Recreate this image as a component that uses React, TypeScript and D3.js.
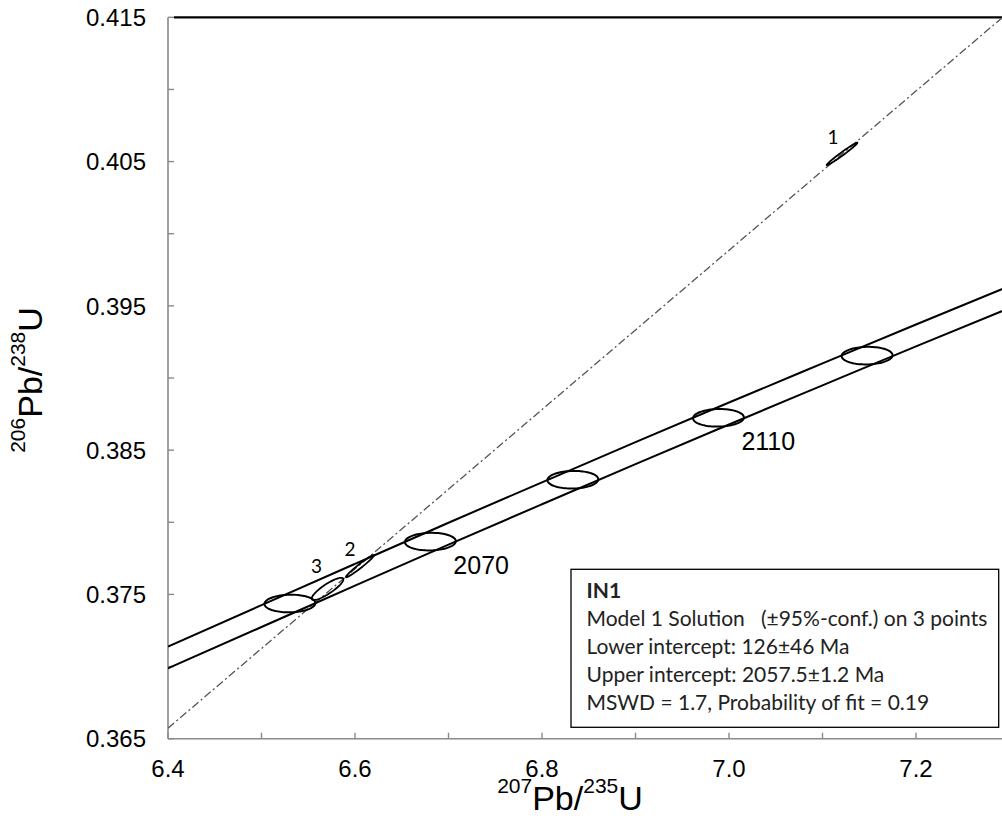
import React from "react";
import * as d3 from "d3";

// ---- data ----
const xBandGrid = [6.4, 6.5, 6.6, 6.7, 6.8, 6.9, 7.0, 7.1, 7.2, 7.3];
const bandUpper = [0.37138, 0.37426, 0.37712, 0.37997, 0.38277, 0.38555, 0.3883, 0.39101, 0.39371, 0.39637];
const bandLower = [0.36988, 0.37274, 0.37561, 0.37845, 0.38125, 0.38403, 0.38678, 0.38949, 0.39219, 0.39485];

const markerAges = [2050, 2070, 2090, 2110, 2130];
const markerX = [6.5304, 6.6806, 6.833, 6.9887, 7.1477];
const markerY = [0.37437, 0.37866, 0.38295, 0.38724, 0.39155];
const markerSx = 0.0272;
const markerSy = 0.00061;
const labelledAges = [2070, 2110];

const spotIds = ["1", "2", "3"];
const spotX = [7.1209, 6.6053, 6.5706];
const spotY = [0.40553, 0.37696, 0.37538];
const spotSx = [0.0164, 0.015, 0.0169];
const spotSy = [0.00078, 0.00077, 0.00077];
const spotRho = [0.985, 0.975, 0.86];

const discordiaX = [6.4, 7.2926];
const discordiaY = [0.36573, 0.415];

const xTicks = [6.4, 6.5, 6.6, 6.7, 6.8, 6.9, 7.0, 7.1, 7.2, 7.3];
const xTickLabels = ["6.4", "6.6", "6.8", "7.0", "7.2"];
const yTicks = [0.365, 0.37, 0.375, 0.38, 0.385, 0.39, 0.395, 0.4, 0.405, 0.41, 0.415];
const yTickLabels = ["0.365", "0.375", "0.385", "0.395", "0.405", "0.415"];

const legendLines = [
  "IN1",
  "Model 1 Solution   (\u00B195%-conf.) on 3 points",
  "Lower intercept: 126\u00B146 Ma",
  "Upper intercept: 2057.5\u00B11.2 Ma",
  "MSWD = 1.7, Probability of fit = 0.19",
];

// ---- layout ----
const W = 1002;
const H = 818;
const left = 168;
const right = 1009.5;
const top = 17.3;
const bottom = 738.7;
const axisGray = "#8a8a8a";

export default function App() {
  const x = d3.scaleLinear().domain([6.4, 7.3]).range([left, right]);
  const y = d3.scaleLinear().domain([0.365, 0.415]).range([bottom, top]);

  const bandLine = d3
    .line<[number, number]>()
    .x((d) => x(d[0]))
    .y((d) => y(d[1]))
    .curve(d3.curveMonotoneX);

  const upperPts = xBandGrid.map((v, i) => [v, bandUpper[i]] as [number, number]);
  const lowerPts = xBandGrid.map((v, i) => [v, bandLower[i]] as [number, number]);

  const ellipsePath = (cx: number, cy: number, sx: number, sy: number, rho: number) => {
    const n = 90;
    const pts: [number, number][] = [];
    for (let k = 0; k <= n; k++) {
      const t = (k / n) * Math.PI * 2;
      const ex = cx + sx * Math.cos(t);
      const ey = cy + sy * (rho * Math.cos(t) + Math.sqrt(1 - rho * rho) * Math.sin(t));
      pts.push([x(ex), y(ey)]);
    }
    return d3.line()(pts) + "Z";
  };

  return (
    <svg
      width={W}
      height={H}
      style={{ position: "absolute", left: 0, top: 0, background: "#fff" }}
      fontFamily="'Liberation Sans', Arial, sans-serif"
    >
      <defs>
        <clipPath id="plot">
          <rect x={left} y={top} width={W - left} height={bottom - top} />
        </clipPath>
      </defs>
      <rect x={0} y={0} width={W} height={H} fill="#fff" />

      {/* axes */}
      <line x1={left} x2={left} y1={top} y2={bottom} stroke={axisGray} strokeWidth={1.6} />
      <line x1={left} x2={W} y1={bottom} y2={bottom} stroke={axisGray} strokeWidth={1.6} />
      <line x1={left + 6} x2={W} y1={top} y2={top} stroke="#000" strokeWidth={2.2} />

      {yTicks.map((t, i) => (
        <line key={"yt" + i} x1={left} x2={left + 6} y1={y(t)} y2={y(t)} stroke={axisGray} strokeWidth={1.4} />
      ))}
      {xTicks.map((t, i) => (
        <line key={"xt" + i} x1={x(t)} x2={x(t)} y1={bottom} y2={bottom - 6} stroke={axisGray} strokeWidth={1.4} />
      ))}

      {yTickLabels.map((s, i) => (
        <text key={"yl" + i} x={146} y={y(+s)} dy="0.36em" textAnchor="end" fontSize={24} fill="#000">
          {s}
        </text>
      ))}
      {xTickLabels.map((s, i) => (
        <text key={"xl" + i} x={x(+s)} y={bottom + 38} textAnchor="middle" fontSize={24} fill="#000">
          {s}
        </text>
      ))}

      {/* axis titles */}
      <text x={570} y={810} textAnchor="middle" fontSize={34} fill="#000">
        <tspan fontSize={21} dy={-17}>207</tspan>
        <tspan dy={17}>Pb/</tspan>
        <tspan fontSize={21} dy={-17}>235</tspan>
        <tspan dy={17}>U</tspan>
      </text>
      <text transform="translate(42,380) rotate(-90)" textAnchor="middle" fontSize={34} fill="#000">
        <tspan fontSize={21} dy={-17}>206</tspan>
        <tspan dy={17}>Pb/</tspan>
        <tspan fontSize={21} dy={-17}>238</tspan>
        <tspan dy={17}>U</tspan>
      </text>

      <g clipPath="url(#plot)">
        {/* discordia */}
        <line
          x1={x(discordiaX[0])}
          y1={y(discordiaY[0])}
          x2={x(discordiaX[1])}
          y2={y(discordiaY[1])}
          stroke="#555"
          strokeWidth={1.3}
          strokeDasharray="8,3,2,3"
        />
        {/* concordia band */}
        <path d={bandLine(upperPts) || ""} fill="none" stroke="#000" strokeWidth={2} />
        <path d={bandLine(lowerPts) || ""} fill="none" stroke="#000" strokeWidth={2} />

        {/* age markers */}
        {markerAges.map((a, i) => (
          <path
            key={"m" + a}
            d={ellipsePath(markerX[i], markerY[i], markerSx, markerSy, 0.05)}
            fill="none"
            stroke="#000"
            strokeWidth={2}
          />
        ))}

        {/* spots */}
        {spotIds.map((id, i) => (
          <path
            key={"s" + id}
            d={ellipsePath(spotX[i], spotY[i], spotSx[i], spotSy[i], spotRho[i])}
            fill="none"
            stroke="#000"
            strokeWidth={1.8}
          />
        ))}
      </g>

      {/* age labels */}
      {markerAges.map((a, i) =>
        labelledAges.includes(a) ? (
          <text key={"ml" + a} x={x(markerX[i]) + 23} y={y(markerY[i]) + 32} fontSize={25} fill="#000">
            {a}
          </text>
        ) : null
      )}

      {/* spot labels */}
      {spotIds.map((id, i) => {
        const off = [
          [-9, -10],
          [-10, -10],
          [-11, -16],
        ][i];
        return (
          <text
            key={"sl" + id}
            x={x(spotX[i]) + off[0]}
            y={y(spotY[i]) + off[1]}
            textAnchor="middle"
            fontSize={19}
            fontFamily="Lato, 'Open Sans', sans-serif"
            fill="#000"
          >
            {id}
          </text>
        );
      })}

      {/* legend */}
      <rect x={571} y={569.3} width={427.7} height={158} fill="#fff" stroke="#000" strokeWidth={1.3} />
      {legendLines.map((s, i) => (
        <text
          key={"lg" + i}
          x={586.5}
          y={598.3 + i * 28}
          fontSize={21}
          fontWeight={i === 0 ? "bold" : "normal"}
          fontFamily="Lato, 'Open Sans', sans-serif"
          fill="#222"
          style={{ whiteSpace: "pre" }}
        >
          {s}
        </text>
      ))}
    </svg>
  );
}
